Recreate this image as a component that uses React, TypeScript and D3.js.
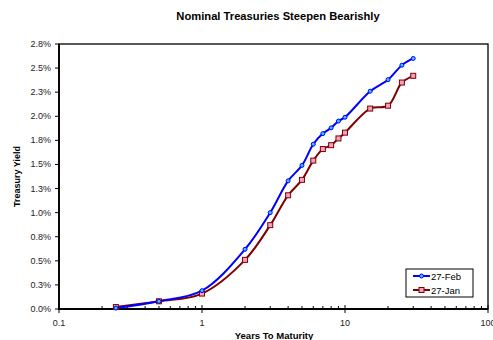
import React from "react";
import * as d3 from "d3";

const maturities = [0.25, 0.5, 1, 2, 3, 4, 5, 6, 7, 8, 9, 10, 15, 20, 25, 30];
const feb = [0.01, 0.08, 0.19, 0.62, 1.0, 1.33, 1.49, 1.71, 1.82, 1.88, 1.95, 1.99, 2.26, 2.38, 2.53, 2.6];
const jan = [0.02, 0.08, 0.16, 0.51, 0.87, 1.18, 1.34, 1.54, 1.66, 1.7, 1.77, 1.83, 2.08, 2.11, 2.35, 2.42];
const yTicks = [0, 0.25, 0.5, 0.75, 1.0, 1.25, 1.5, 1.75, 2.0, 2.25, 2.5, 2.75];
const yTickLabels = ["0.0%", "0.3%", "0.5%", "0.8%", "1.0%", "1.3%", "1.5%", "1.8%", "2.0%", "2.3%", "2.5%", "2.8%"];
const xMajor = [0.1, 1, 10, 100];
const xMajorLabels = ["0.1", "1", "10", "100"];

const W = 493, H = 340;
const L = 59, R = 488, T = 44, B = 309;
const font = "Liberation Sans, Arial, sans-serif";

export default function App() {
  const x = d3.scaleLog().domain([0.1, 100]).range([L, R]);
  const y = d3.scaleLinear().domain([0, 2.75]).range([B, T]);
  const minor: number[] = [];
  for (const d of [0.1, 1, 10]) for (let k = 2; k <= 9; k++) minor.push(d * k);
  const line = d3
    .line<number>()
    .x((_, i) => x(maturities[i]))
    .y((v) => y(v))
    .curve(d3.curveCatmullRom.alpha(0.5));
  const blue = "#0000ff";
  const red = "#800000";
  return (
    <svg width={W} height={H} style={{ position: "absolute", left: 0, top: 0 }} fontFamily={font}>
      <rect x={0} y={0} width={W} height={H} fill="#fff" />
      <text x={278} y={20} textAnchor="middle" fontSize={11.2} fontWeight="bold">
        Nominal Treasuries Steepen Bearishly
      </text>
      {/* frame */}
      <rect x={L} y={T} width={R - L} height={B - T} fill="none" stroke="#000" strokeWidth={1.3} />
      <line x1={L} y1={T} x2={L} y2={B + 1} stroke="#000" strokeWidth={1.8} />
      <line x1={L - 1} y1={B} x2={R} y2={B} stroke="#000" strokeWidth={1.8} />
      {/* y ticks */}
      {yTicks.map((t, i) => (
        <g key={"y" + i}>
          <line x1={L - 4} x2={L} y1={y(t)} y2={y(t)} stroke="#000" />
          <text x={L - 8} y={y(t) + 3} textAnchor="end" fontSize={9} fill="#222">
            {yTickLabels[i]}
          </text>
        </g>
      ))}
      {/* x ticks */}
      {minor.map((t, i) => (
        <line key={"m" + i} x1={x(t)} x2={x(t)} y1={B - 3} y2={B} stroke="#000" />
      ))}
      {xMajor.map((t, i) => (
        <g key={"x" + i}>
          <line x1={x(t)} x2={x(t)} y1={B - 4} y2={B + 4} stroke="#000" />
          <text x={x(t)} y={B + 17} textAnchor="middle" fontSize={9} fill="#222">
            {xMajorLabels[i]}
          </text>
        </g>
      ))}
      <text x={274} y={339} textAnchor="middle" fontSize={9.5} fontWeight="bold">
        Years To Maturity
      </text>
      <text
        transform={`translate(20,${(T + B) / 2}) rotate(-90)`}
        textAnchor="middle"
        fontSize={9}
        fontWeight="bold"
      >
        Treasury Yield
      </text>
      {/* series */}
      <path d={line(jan) || ""} fill="none" stroke={red} strokeWidth={2} />
      <path d={line(feb) || ""} fill="none" stroke={blue} strokeWidth={2} />
      {jan.map((v, i) => (
        <rect
          key={"j" + i}
          x={x(maturities[i]) - 2.5}
          y={y(v) - 2.5}
          width={5}
          height={5}
          fill="#f0a0c0"
          stroke={red}
          strokeWidth={1}
        />
      ))}
      {feb.map((v, i) => (
        <circle key={"f" + i} cx={x(maturities[i])} cy={y(v)} r={2} fill="#40c0ff" stroke={blue} strokeWidth={1} />
      ))}
      {/* legend */}
      <rect x={406} y={269} width={67} height={28} fill="#fff" stroke="#000" strokeWidth={1} />
      <line x1={413} x2={430} y1={276} y2={276} stroke={blue} strokeWidth={2} />
      <circle cx={421.5} cy={276} r={2} fill="#40c0ff" stroke={blue} />
      <text x={431} y={279.5} fontSize={9.5}>27-Feb</text>
      <line x1={413} x2={430} y1={290} y2={290} stroke={red} strokeWidth={2} />
      <rect x={419} y={287.5} width={5} height={5} fill="#f0a0c0" stroke={red} />
      <text x={431} y={293.5} fontSize={9.5}>27-Jan</text>
    </svg>
  );
}
